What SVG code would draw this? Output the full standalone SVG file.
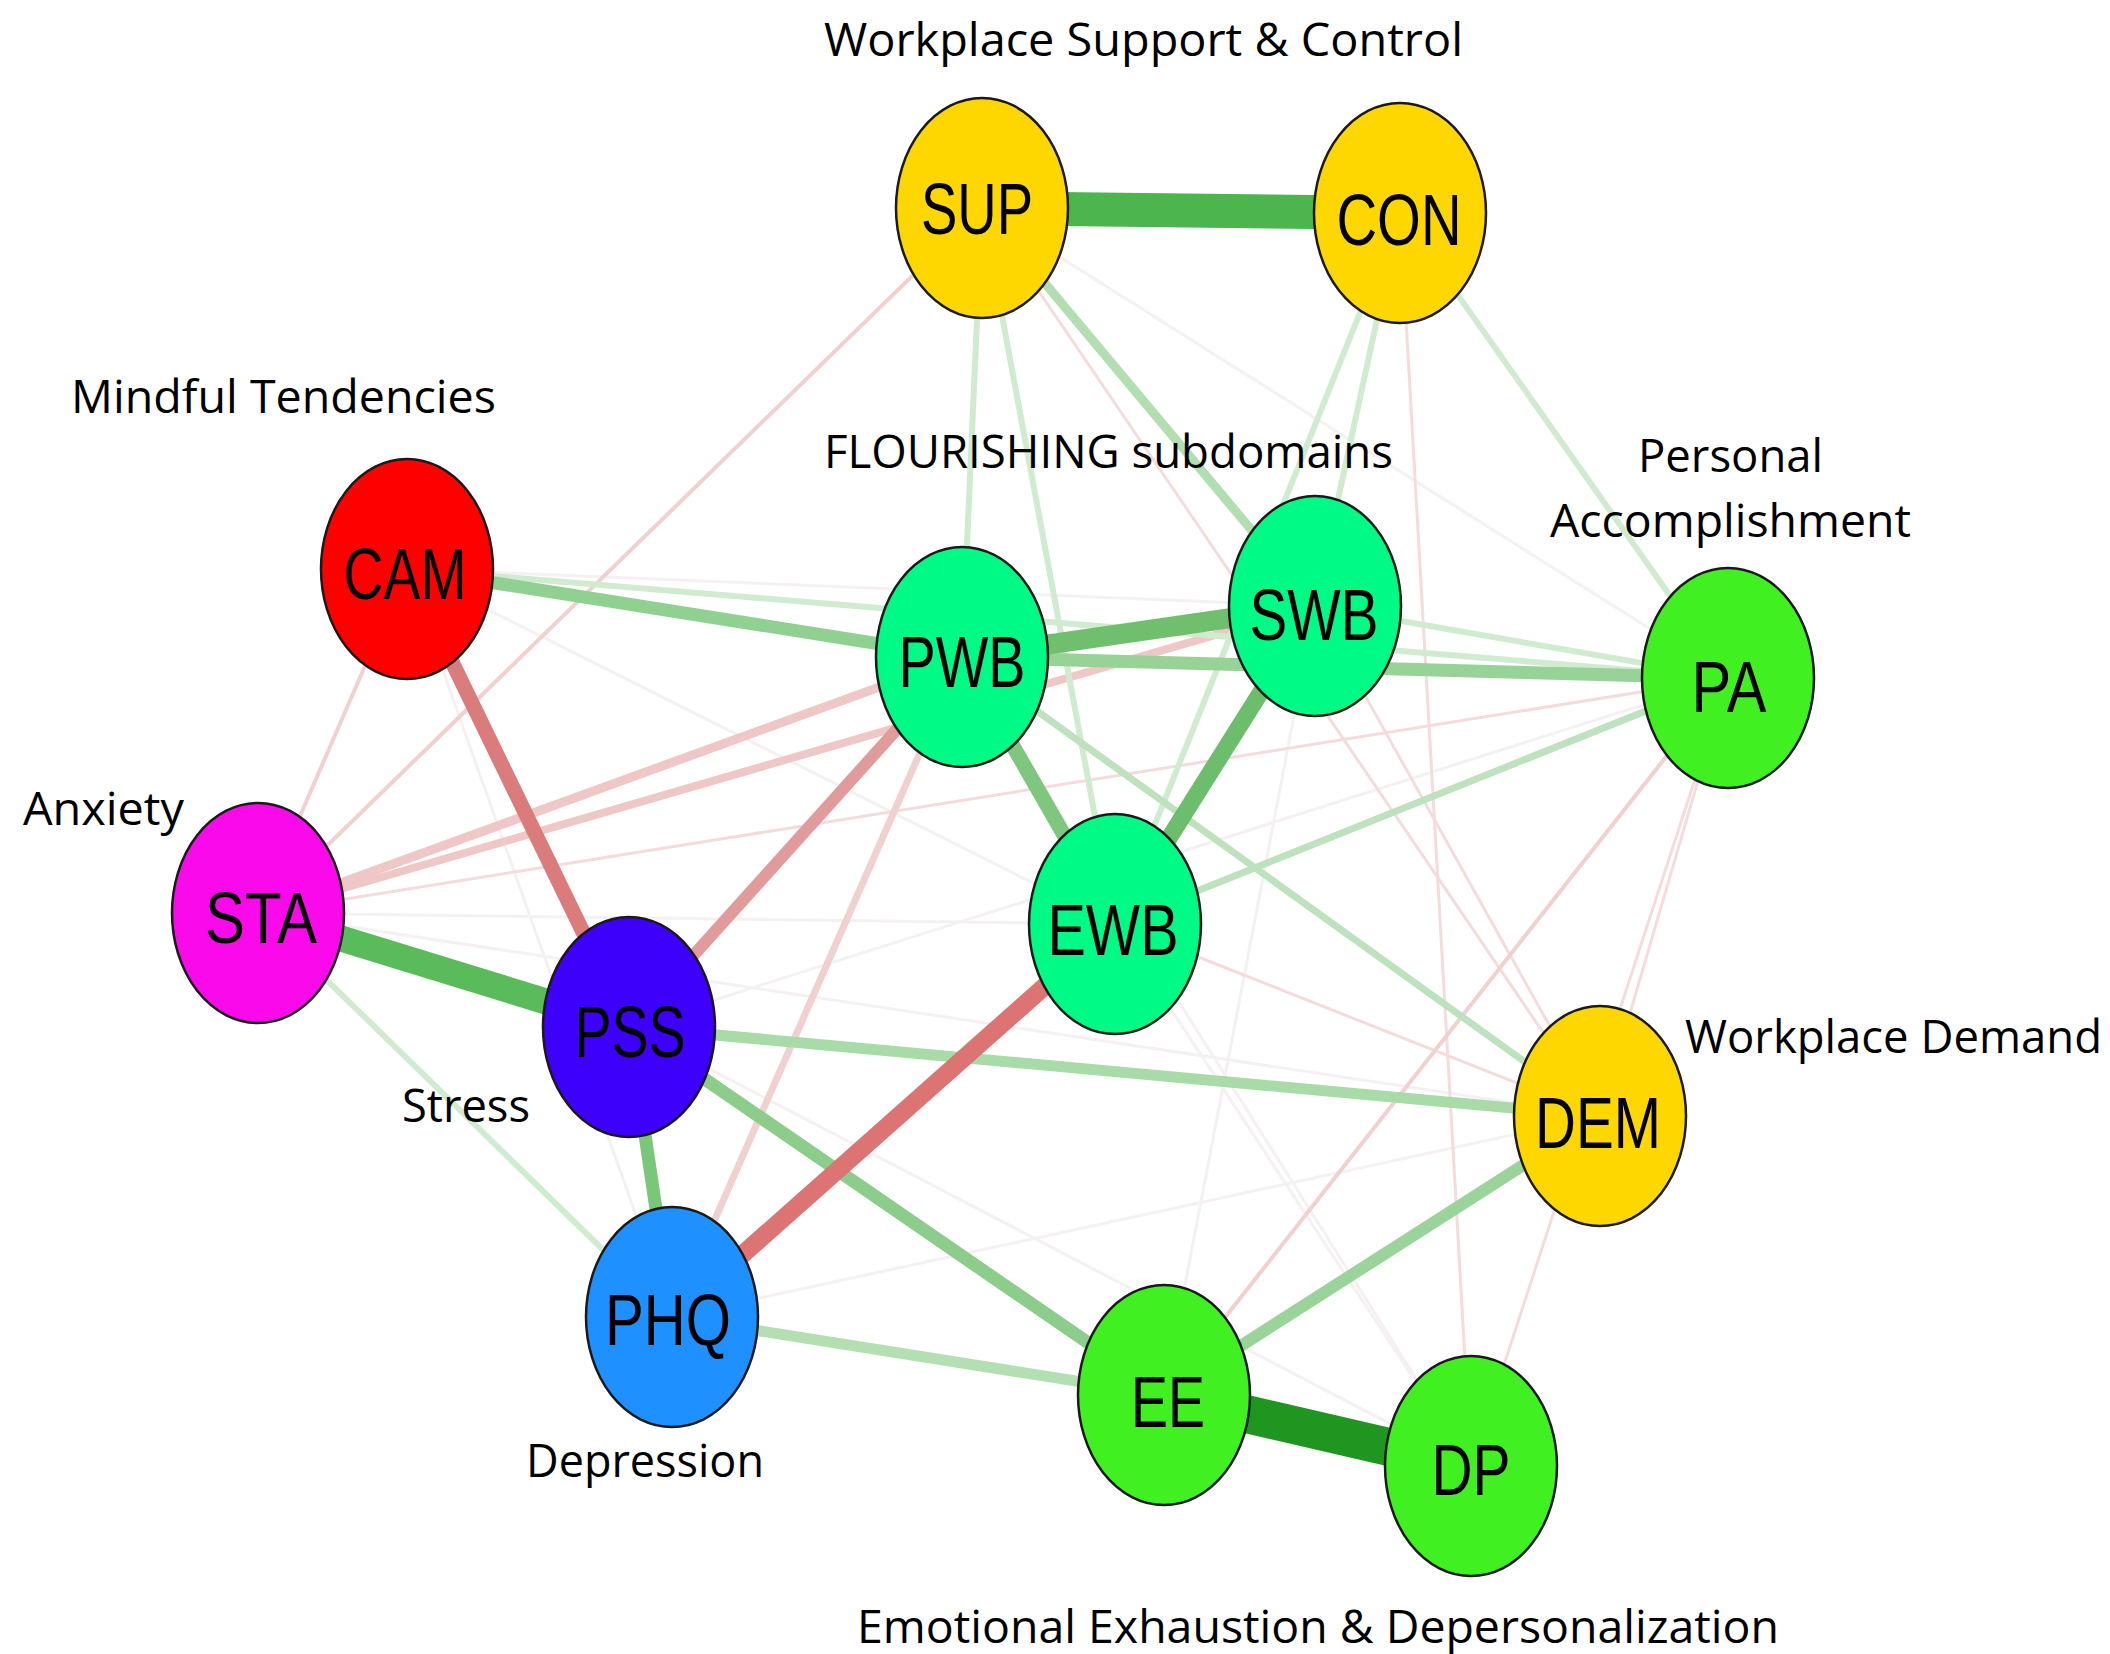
<svg xmlns="http://www.w3.org/2000/svg" width="2110" height="1654" viewBox="0 0 2110 1654">
<style>
.e{fill:none;stroke-linecap:butt}
.f0{stroke:#f5f1f1;stroke-width:3}
.r5{stroke:#f4dcdc;stroke-width:3}
.r4{stroke:#f1d0d0;stroke-width:4}
.r3{stroke:#efc7c7;stroke-width:8}
.r2{stroke:#e29b9b;stroke-width:12}
.r1{stroke:#db7c7c;stroke-width:15}
.r0{stroke:#dc7474;stroke-width:18}
.g5{stroke:#d0ebd0;stroke-width:6}
.g4{stroke:#bde2bd;stroke-width:7}
.g3{stroke:#a9dba9;stroke-width:11}
.g2{stroke:#90d090;stroke-width:13}
.g1{stroke:#73c173;stroke-width:17}
.n{stroke:#1a1a1a;stroke-width:2.5}
.nl{font-family:"Liberation Sans",Arial,sans-serif;font-size:72px;fill:#000;text-anchor:middle}
.lab{font-family:"Open Sans","Noto Sans",sans-serif;font-size:46px;fill:#000}
</style>
<rect width="2110" height="1654" fill="#ffffff"/>
<g id="connectors">
  <!-- faint -->
  <line class="e f0" x1="407" y1="569" x2="1115" y2="924"/>
  <line class="e f0" x1="407" y1="569" x2="1315" y2="606"/>
  <line class="e f0" x1="407" y1="569" x2="672" y2="1317"/>
  <line class="e f0" x1="258" y1="913" x2="1115" y2="924"/>
  <line class="e f0" x1="258" y1="913" x2="1600" y2="1116"/>
  <line class="e f0" x1="629" y1="1027" x2="1728" y2="678"/>
  <line class="e f0" x1="629" y1="1027" x2="1471" y2="1466"/>
  <line class="e f0" x1="672" y1="1317" x2="1600" y2="1116"/>
  <line class="e f0" x1="982" y1="208" x2="1728" y2="678"/>
  <line class="e f0" x1="962" y1="657" x2="1471" y2="1466"/>
  <line class="e f0" x1="1115" y1="924" x2="1471" y2="1466"/>
  <line class="e f0" x1="1315" y1="606" x2="1164" y2="1395"/>
  <!-- pale red -->
  <line class="e r5" x1="1400" y1="213" x2="1471" y2="1466"/>
  <line class="e r5" x1="1728" y1="678" x2="1471" y2="1466"/>
  <line class="e r5" x1="1728" y1="678" x2="1600" y2="1116"/>
  <line class="e r5" x1="1315" y1="606" x2="1600" y2="1116"/>
  <line class="e r5" x1="1115" y1="924" x2="1600" y2="1116"/>
  <line class="e r5" x1="982" y1="208" x2="1600" y2="1116"/>
  <line class="e r5" x1="258" y1="913" x2="1728" y2="678"/>
  <line class="e r4" x1="1728" y1="678" x2="1164" y2="1395"/>
  <line class="e r4" x1="407" y1="569" x2="258" y2="913"/>
  <line class="e r4" x1="982" y1="208" x2="258" y2="913"/>
  <line class="e r4" x1="962" y1="657" x2="672" y2="1317" style="stroke-width:7"/>
  <line class="e r3" x1="258" y1="913" x2="1315" y2="606"/>
  <line class="e r3" x1="258" y1="913" x2="962" y2="657" style="stroke-width:9"/>
  <!-- light green -->
  <line class="e g5" x1="407" y1="569" x2="1728" y2="678"/>
  <line class="e g5" x1="1400" y1="213" x2="1315" y2="606"/>
  <line class="e g5" x1="1400" y1="213" x2="1115" y2="924"/>
  <line class="e g5" x1="1400" y1="213" x2="1728" y2="678"/>
  <line class="e g5" x1="1315" y1="606" x2="1728" y2="678"/>
  <line class="e g5" x1="982" y1="208" x2="962" y2="657"/>
  <line class="e g5" x1="982" y1="208" x2="1115" y2="924"/>
  <line class="e g5" x1="258" y1="913" x2="672" y2="1317"/>
  <line class="e g4" x1="962" y1="657" x2="1600" y2="1116"/>
  <line class="e g4" x1="1115" y1="924" x2="1728" y2="678"/>
  <line class="e g4" x1="982" y1="208" x2="1315" y2="606" style="stroke:#b2deb2;stroke-width:9"/>
  <line class="e g3" x1="629" y1="1027" x2="1600" y2="1116"/>
  <line class="e g3" x1="672" y1="1317" x2="1164" y2="1395" style="stroke:#b3dfb3"/>
  <line class="e g3" x1="1164" y1="1395" x2="1600" y2="1116" style="stroke:#9ad49a;stroke-width:12"/>
  <line class="e g2" x1="629" y1="1027" x2="1164" y2="1395" style="stroke:#8ccd8c"/>
  <line class="e g2" x1="407" y1="569" x2="962" y2="657"/>
  <line class="e g2" x1="962" y1="657" x2="1728" y2="678" style="stroke:#97d297"/>
  <line class="e g2" x1="629" y1="1027" x2="672" y2="1317" style="stroke:#7ac77a"/>
  <line class="e g1" x1="962" y1="657" x2="1115" y2="924" style="stroke:#7fc67f;stroke-width:15"/>
  <line class="e g1" x1="1315" y1="606" x2="1115" y2="924" style="stroke:#6cbe6c"/>
  <line class="e g1" x1="962" y1="657" x2="1315" y2="606" style="stroke:#6fbf6f;stroke-width:20"/>
  <!-- red strong -->
  <line class="e r2" x1="629" y1="1027" x2="962" y2="657"/>
  <line class="e r1" x1="407" y1="569" x2="629" y2="1027"/>
  <line class="e r0" x1="1115" y1="924" x2="672" y2="1317"/>
  <!-- strong green -->
  <line class="e" x1="258" y1="913" x2="629" y2="1027" style="stroke:#5abb5a;stroke-width:26"/>
  <line class="e" x1="982" y1="208" x2="1400" y2="213" style="stroke:#4db54d;stroke-width:34"/>
  <line class="e" x1="1164" y1="1395" x2="1471" y2="1466" style="stroke:#1f961f;stroke-width:38"/>
</g>
<g id="node-SUP"><ellipse class="n" cx="982" cy="208" rx="86" ry="110" fill="#ffd700"/><text class="nl" x="977" y="234" textLength="112" lengthAdjust="spacingAndGlyphs">SUP</text></g>
<g id="node-CON"><ellipse class="n" cx="1400" cy="213" rx="86" ry="110" fill="#ffd700"/><text class="nl" x="1399" y="245" textLength="125" lengthAdjust="spacingAndGlyphs">CON</text></g>
<g id="node-CAM"><ellipse class="n" cx="407" cy="569" rx="86" ry="110" fill="#ff0000"/><text class="nl" x="405" y="599" textLength="123" lengthAdjust="spacingAndGlyphs">CAM</text></g>
<g id="node-PWB"><ellipse class="n" cx="962" cy="657" rx="86" ry="110" fill="#00fa86"/><text class="nl" x="962" y="687" textLength="127" lengthAdjust="spacingAndGlyphs">PWB</text></g>
<g id="node-SWB"><ellipse class="n" cx="1315" cy="606" rx="86" ry="110" fill="#00fa86"/><text class="nl" x="1314" y="640" textLength="129" lengthAdjust="spacingAndGlyphs">SWB</text></g>
<g id="node-PA"><ellipse class="n" cx="1728" cy="678" rx="86" ry="110" fill="#40f020"/><text class="nl" x="1729" y="712" textLength="75" lengthAdjust="spacingAndGlyphs">PA</text></g>
<g id="node-STA"><ellipse class="n" cx="258" cy="913" rx="86" ry="110" fill="#fa0aeb"/><text class="nl" x="261" y="943" textLength="112" lengthAdjust="spacingAndGlyphs">STA</text></g>
<g id="node-EWB"><ellipse class="n" cx="1115" cy="924" rx="86" ry="110" fill="#00fa86"/><text class="nl" x="1113" y="955" textLength="131" lengthAdjust="spacingAndGlyphs">EWB</text></g>
<g id="node-PSS"><ellipse class="n" cx="629" cy="1027" rx="86" ry="110" fill="#3d00fa"/><text class="nl" x="630" y="1057" textLength="111" lengthAdjust="spacingAndGlyphs">PSS</text></g>
<g id="node-DEM"><ellipse class="n" cx="1600" cy="1116" rx="86" ry="110" fill="#ffd700"/><text class="nl" x="1598" y="1148" textLength="126" lengthAdjust="spacingAndGlyphs">DEM</text></g>
<g id="node-PHQ"><ellipse class="n" cx="672" cy="1317" rx="86" ry="110" fill="#1e90ff"/><text class="nl" x="668" y="1345" textLength="126" lengthAdjust="spacingAndGlyphs">PHQ</text></g>
<g id="node-EE"><ellipse class="n" cx="1164" cy="1395" rx="86" ry="110" fill="#40f020"/><text class="nl" x="1168" y="1427" textLength="74" lengthAdjust="spacingAndGlyphs">EE</text></g>
<g id="node-DP"><ellipse class="n" cx="1471" cy="1466" rx="86" ry="110" fill="#40f020"/><text class="nl" x="1471" y="1495" textLength="79" lengthAdjust="spacingAndGlyphs">DP</text></g>
<g id="labels">
  <text class="lab" x="824" y="56" textLength="639" lengthAdjust="spacingAndGlyphs">Workplace Support &amp; Control</text>
  <text class="lab" x="71" y="413" textLength="425" lengthAdjust="spacingAndGlyphs">Mindful Tendencies</text>
  <text class="lab" x="824" y="468" textLength="569" lengthAdjust="spacingAndGlyphs">FLOURISHING subdomains</text>
  <text class="lab" x="1638" y="472" textLength="185" lengthAdjust="spacingAndGlyphs">Personal</text>
  <text class="lab" x="1550" y="537" textLength="361" lengthAdjust="spacingAndGlyphs">Accomplishment</text>
  <text class="lab" x="23" y="825" textLength="161" lengthAdjust="spacingAndGlyphs">Anxiety</text>
  <text class="lab" x="402" y="1122" textLength="128" lengthAdjust="spacingAndGlyphs">Stress</text>
  <text class="lab" x="1685" y="1053" textLength="417" lengthAdjust="spacingAndGlyphs">Workplace Demand</text>
  <text class="lab" x="526" y="1477" textLength="238" lengthAdjust="spacingAndGlyphs">Depression</text>
  <text class="lab" x="857" y="1643" textLength="922" lengthAdjust="spacingAndGlyphs">Emotional Exhaustion &amp; Depersonalization</text>
</g>
</svg>
